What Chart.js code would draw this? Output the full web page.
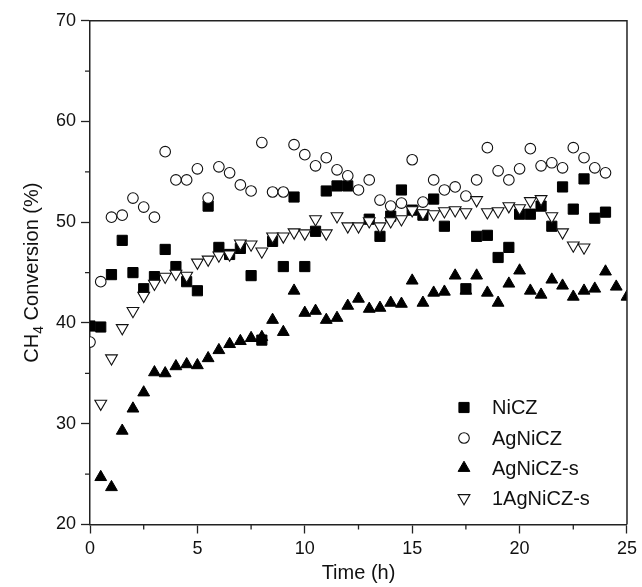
<!DOCTYPE html>
<html>
<head>
<meta charset="utf-8">
<script src="https://cdn.jsdelivr.net/npm/chart.js@4/dist/chart.umd.min.js"></script>
<style>
  html, body { margin: 0; padding: 0; background: #fff; }
</style>
</head>
<body>
<canvas id="grafica" width="642" height="587"></canvas>
<script>
// valores
const tiemposNiCZ = [0, 0.5, 1, 1.5, 2, 2.5, 3, 3.5, 4, 4.5, 5, 5.5, 6, 6.5, 7, 7.5, 8, 8.5, 9, 9.5, 10, 10.5, 11, 11.5, 12,
  13, 13.5, 14, 14.5, 15, 15.5, 16, 16.5, 17.5, 18, 18.5, 19, 19.5, 20, 20.5, 21, 21.5, 22, 22.5, 23, 23.5, 24];
const valoresNiCZ = [39.7, 39.6, 44.8, 48.2, 45.0, 43.4, 44.6, 47.3, 45.6, 44.1, 43.2, 51.6, 47.5, 46.8, 47.4, 44.7, 38.3, 48.1, 45.6, 52.5, 45.6, 49.1, 53.1, 53.6, 53.6,
  50.3, 48.6, 50.6, 53.2, 51.2, 50.7, 52.3, 49.6, 43.4, 48.6, 48.7, 46.5, 47.5, 50.8, 50.8, 51.6, 49.6, 53.5, 51.3, 54.3, 50.4, 51.0];

const tiemposAgNiCZ = [0, 0.5, 1, 1.5, 2, 2.5, 3, 3.5, 4, 4.5, 5, 5.5, 6, 6.5, 7, 7.5, 8, 8.5, 9, 9.5, 10, 10.5, 11, 11.5, 12,
  12.5, 13, 13.5, 14, 14.5, 15, 15.5, 16, 16.5, 17, 17.5, 18, 18.5, 19, 19.5, 20, 20.5, 21, 21.5, 22, 22.5, 23, 23.5, 24];
const valoresAgNiCZ = [38.1, 44.1, 50.5, 50.7, 52.4, 51.5, 50.5, 57.0, 54.2, 54.2, 55.3, 52.4, 55.5, 54.9, 53.7, 53.1, 57.9, 53.0, 53.0, 57.7, 56.7, 55.6, 56.4, 55.2, 54.6,
  53.2, 54.2, 52.2, 51.6, 51.9, 56.2, 52.0, 54.2, 53.2, 53.5, 52.6, 54.2, 57.4, 55.1, 54.2, 55.3, 57.3, 55.6, 55.9, 55.4, 57.4, 56.4, 55.4, 54.9];

const tiemposAgNiCZs = [0.5, 1, 1.5, 2, 2.5, 3, 3.5, 4, 4.5, 5, 5.5, 6, 6.5, 7, 7.5, 8, 8.5, 9, 9.5, 10, 10.5, 11, 11.5, 12,
  12.5, 13, 13.5, 14, 14.5, 15, 15.5, 16, 16.5, 17, 17.5, 18, 18.5, 19, 19.5, 20, 20.5, 21, 21.5, 22, 22.5, 23, 23.5, 24, 24.5, 25];
const valoresAgNiCZs = [24.7, 23.7, 29.3, 31.5, 33.1, 35.1, 35.0, 35.7, 35.9, 35.8, 36.5, 37.3, 37.9, 38.2, 38.5, 38.6, 40.3, 39.1, 43.2, 41.0, 41.2, 40.3, 40.5, 41.7,
  42.4, 41.4, 41.5, 42.0, 41.9, 44.2, 42.0, 43.0, 43.1, 44.7, 43.2, 44.7, 43.0, 42.0, 43.9, 45.2, 43.2, 42.8, 44.3, 43.7, 42.6, 43.2, 43.4, 45.1, 43.6, 42.6];

const tiempos1AgNiCZs = [0.5, 1, 1.5, 2, 2.5, 3, 3.5, 4, 4.5, 5, 5.5, 6, 6.5, 7, 7.5, 8, 8.5, 9, 9.5, 10, 10.5, 11, 11.5, 12,
  12.5, 13, 13.5, 14, 14.5, 15, 15.5, 16, 16.5, 17, 17.5, 18, 18.5, 19, 19.5, 20, 20.5, 21, 21.5, 22, 22.5, 23];
const valores1AgNiCZs = [32.0, 36.5, 39.5, 41.2, 42.7, 43.9, 44.6, 44.9, 44.7, 46.0, 46.3, 46.7, 46.8, 47.9, 47.8, 47.1, 48.6, 48.6, 49.0, 48.9, 50.3, 48.9, 50.6, 49.6,
  49.6, 50.1, 49.6, 50.1, 50.3, 51.2, 50.9, 50.8, 51.1, 51.2, 51.0, 52.2, 51.0, 51.1, 51.6, 51.4, 52.1, 52.3, 50.6, 49.0, 47.7, 47.5];

const etiquetasX = [0, 5, 10, 15, 20, 25];
const etiquetasY = [20, 30, 40, 50, 60, 70];

const FUENTE = "'Liberation Sans', Arial, sans-serif";
const NEGRO = "#222";

function puntos(xs, ys) {
  return xs.map((x, i) => ({ x: x, y: ys[i] }));
}

const series = [
  { label: "NiCZ", data: puntos(tiemposNiCZ, valoresNiCZ), pointStyle: "rect", pointRadius: 7.2,
    backgroundColor: "#000", borderColor: "#000", pointBorderWidth: 1, pointRotation: 0, order: 4 },
  { label: "AgNiCZ", data: puntos(tiemposAgNiCZ, valoresAgNiCZ), pointStyle: "circle", pointRadius: 5.3,
    backgroundColor: "#fff", borderColor: "#111", pointBorderWidth: 1.1, pointRotation: 0, order: 3 },
  { label: "AgNiCZ-s", data: puntos(tiemposAgNiCZs, valoresAgNiCZs), pointStyle: "triangle", pointRadius: 6.8,
    backgroundColor: "#000", borderColor: "#000", pointBorderWidth: 1, pointRotation: 0, order: 2 },
  { label: "1AgNiCZ-s", data: puntos(tiempos1AgNiCZs, valores1AgNiCZs), pointStyle: "triangle", pointRadius: 6.8,
    backgroundColor: "#fff", borderColor: "#111", pointBorderWidth: 1.1, pointRotation: 180, order: 1 }
];

// marco, ticks menores, titulos y leyenda
const extras = {
  id: "extras",
  afterDraw(chart) {
    const ctx = chart.ctx;
    const a = chart.chartArea;
    const sx = chart.scales.x;
    const sy = chart.scales.y;

    ctx.save();
    ctx.strokeStyle = NEGRO;
    ctx.lineWidth = 1.5;
    ctx.beginPath();
    ctx.moveTo(a.left, a.top);
    ctx.lineTo(a.right, a.top);
    ctx.lineTo(a.right, a.bottom);
    ctx.stroke();

    ctx.lineWidth = 1.3;
    ctx.beginPath();
    for (let i = 0; i < etiquetasX.length - 1; i++) {
      const px = sx.getPixelForValue((etiquetasX[i] + etiquetasX[i + 1]) / 2);
      ctx.moveTo(px, a.bottom);
      ctx.lineTo(px, a.bottom + 5);
    }
    for (let i = 0; i < etiquetasY.length - 1; i++) {
      const py = sy.getPixelForValue((etiquetasY[i] + etiquetasY[i + 1]) / 2);
      ctx.moveTo(a.left, py);
      ctx.lineTo(a.left - 5, py);
    }
    ctx.stroke();

    // titulo eje x
    ctx.fillStyle = "#111";
    ctx.font = "20px " + FUENTE;
    ctx.textAlign = "center";
    ctx.textBaseline = "middle";
    ctx.fillText("Time (h)", (a.left + a.right) / 2, 573);

    // titulo eje y con subindice
    const t1 = "CH", t2 = "4", t3 = " Conversion (%)";
    ctx.font = "20px " + FUENTE;
    const w1 = ctx.measureText(t1).width;
    const w3 = ctx.measureText(t3).width;
    ctx.font = "14px " + FUENTE;
    const w2 = ctx.measureText(t2).width;
    const total = w1 + w2 + w3;
    ctx.translate(31, (a.top + a.bottom) / 2);
    ctx.rotate(-Math.PI / 2);
    ctx.textAlign = "left";
    ctx.textBaseline = "alphabetic";
    let cx = -total / 2;
    ctx.font = "20px " + FUENTE;
    ctx.fillText(t1, cx, 7);
    cx += w1;
    ctx.font = "14px " + FUENTE;
    ctx.fillText(t2, cx, 12);
    cx += w2;
    ctx.font = "20px " + FUENTE;
    ctx.fillText(t3, cx, 7);
    ctx.restore();

    // leyenda
    const filas = [407.5, 438, 468, 498];
    ctx.save();
    chart.data.datasets.forEach((ds, i) => {
      const y = filas[i];
      ctx.fillStyle = ds.backgroundColor;
      ctx.strokeStyle = ds.borderColor;
      ctx.lineWidth = ds.pointBorderWidth;
      Chart.helpers.drawPoint(ctx, {
        pointStyle: ds.pointStyle,
        radius: ds.pointRadius,
        rotation: ds.pointRotation,
        borderWidth: ds.pointBorderWidth
      }, 464, y);
      ctx.fillStyle = "#111";
      ctx.font = "20px " + FUENTE;
      ctx.textAlign = "left";
      ctx.textBaseline = "middle";
      ctx.fillText(ds.label, 492, y + 1);
    });
    ctx.restore();
  }
};

new Chart(document.getElementById("grafica"), {
  type: "scatter",
  data: { datasets: series },
  options: {
    responsive: false,
    animation: false,
    devicePixelRatio: 1,
    layout: { padding: { top: 20.7, right: 12, left: 0, bottom: 0 } },
    plugins: {
      legend: { display: false },
      tooltip: { enabled: false }
    },
    scales: {
      x: {
        type: "linear",
        min: 0,
        max: 25,
        afterBuildTicks: s => { s.ticks = etiquetasX.map(v => ({ value: v })); },
        afterFit: s => { s.height = 587 - 524.5; },
        ticks: { color: "#111", font: { size: 18, family: FUENTE }, padding: 5, maxRotation: 0 },
        grid: { drawOnChartArea: false, drawTicks: true, tickLength: 9, tickColor: NEGRO, tickWidth: 1.3 },
        border: { display: true, color: NEGRO, width: 1.5 }
      },
      y: {
        type: "linear",
        min: 20,
        max: 70,
        afterBuildTicks: s => { s.ticks = etiquetasY.map(v => ({ value: v })); },
        afterFit: s => { s.width = 90; },
        ticks: { color: "#111", font: { size: 18, family: FUENTE }, padding: 5 },
        grid: { drawOnChartArea: false, drawTicks: true, tickLength: 9, tickColor: NEGRO, tickWidth: 1.3 },
        border: { display: true, color: NEGRO, width: 1.5 }
      }
    }
  },
  plugins: [extras]
});
</script>
</body>
</html>
